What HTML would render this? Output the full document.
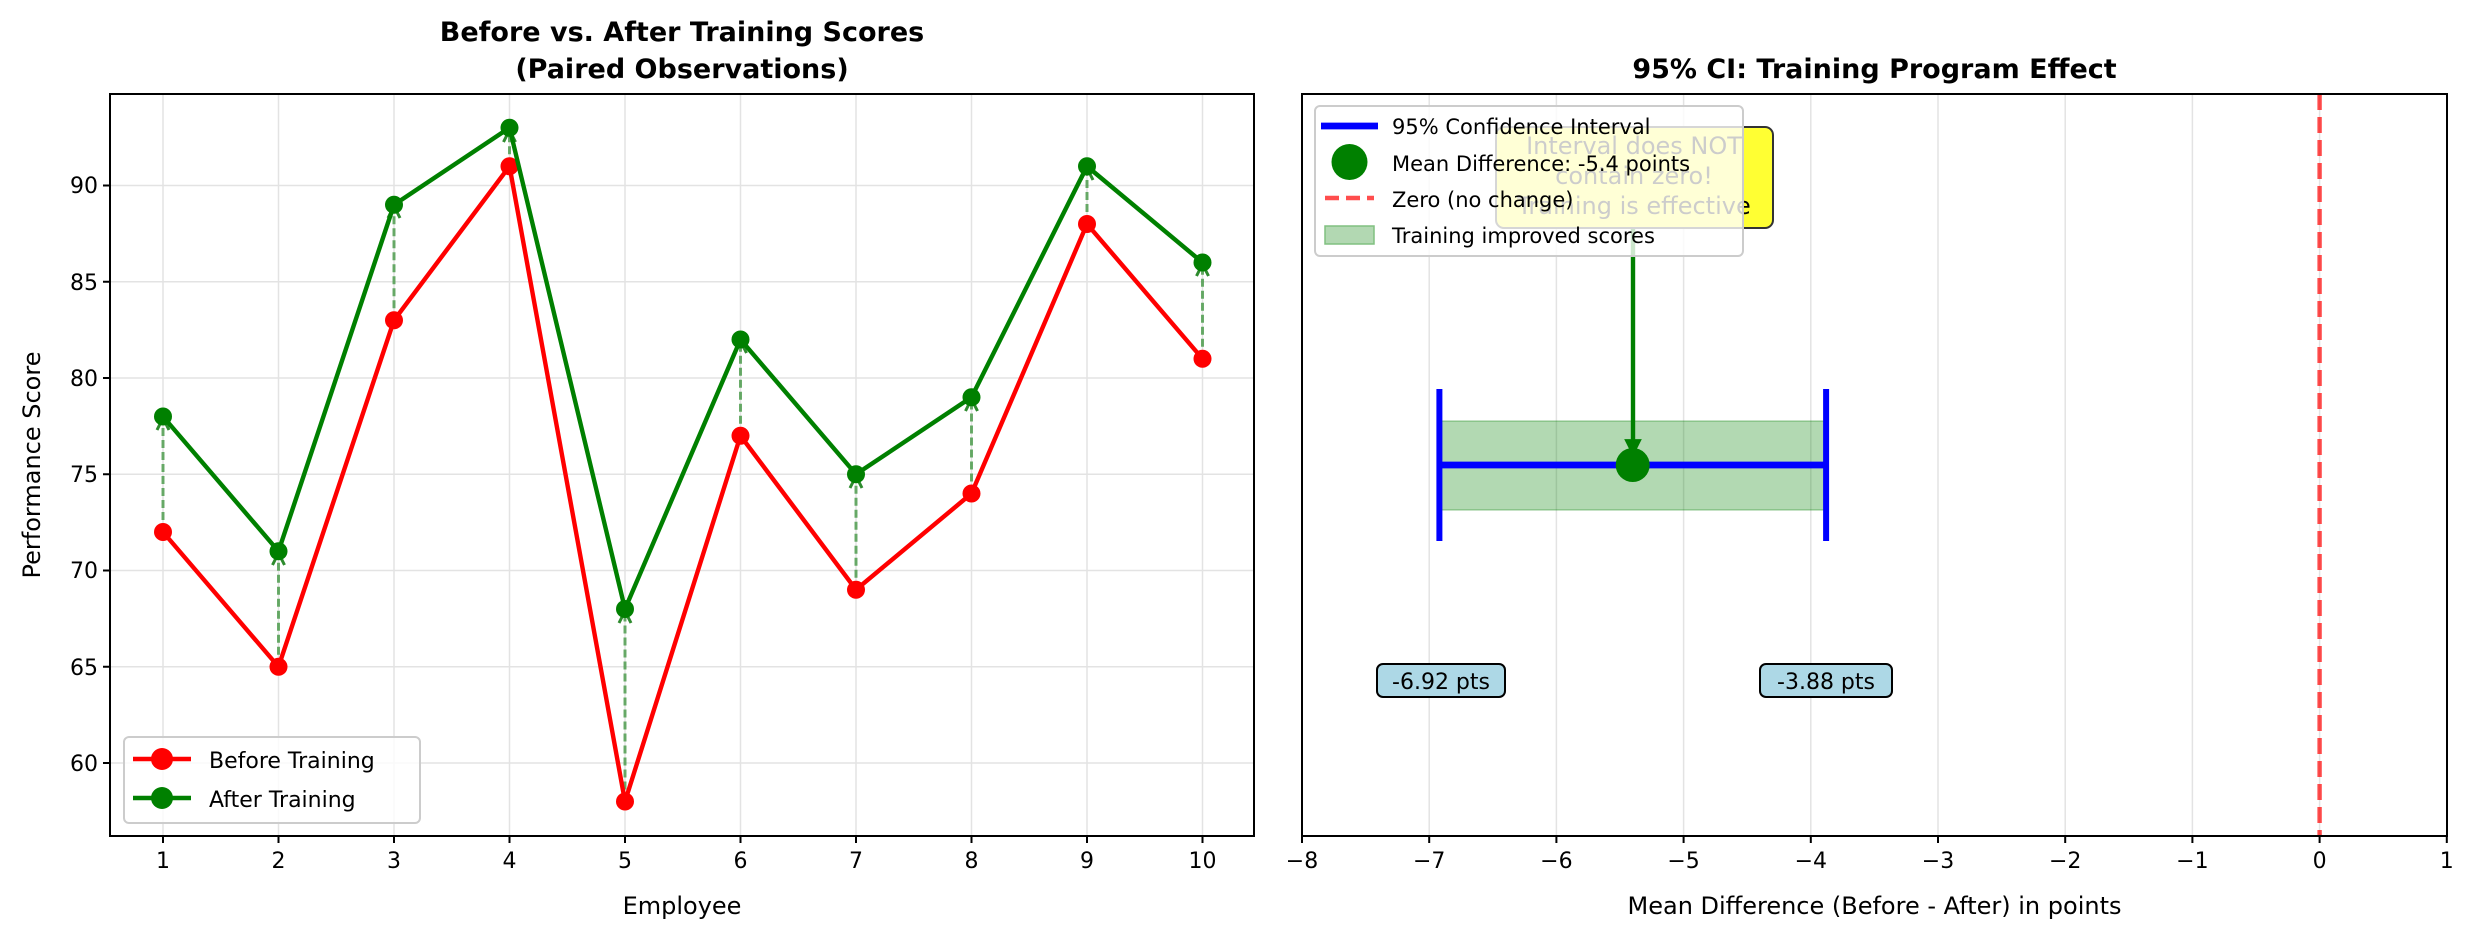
<!DOCTYPE html>
<html><head><meta charset="utf-8"><style>body{margin:0;background:#fff}svg{display:block}text{font-family:"DejaVu Sans","Liberation Sans",sans-serif}</style></head>
<body>
<svg width="2474" height="939" xmlns="http://www.w3.org/2000/svg">
<defs>
<marker id="ah" viewBox="0 0 10 10" refX="9" refY="5" markerWidth="5" markerHeight="5" orient="auto"><path d="M1,1 L9,5 L1,9" fill="none" stroke="#2e8b2e" stroke-width="2"/></marker>
<marker id="ah2" viewBox="0 0 10 10" refX="9" refY="5" markerWidth="4" markerHeight="4" orient="auto"><path d="M0,0 L10,5 L0,10 z" fill="green"/></marker>
</defs>
<!-- LEFT PLOT -->
<g stroke="#e3e3e3" stroke-width="1.5">
<line x1="163" y1="94" x2="163" y2="836"/><line x1="278.5" y1="94" x2="278.5" y2="836"/><line x1="394" y1="94" x2="394" y2="836"/><line x1="509.5" y1="94" x2="509.5" y2="836"/><line x1="625" y1="94" x2="625" y2="836"/><line x1="740.5" y1="94" x2="740.5" y2="836"/><line x1="856" y1="94" x2="856" y2="836"/><line x1="971.5" y1="94" x2="971.5" y2="836"/><line x1="1087" y1="94" x2="1087" y2="836"/><line x1="1202.5" y1="94" x2="1202.5" y2="836"/>
<line x1="110" y1="763" x2="1254" y2="763"/><line x1="110" y1="666.75" x2="1254" y2="666.75"/><line x1="110" y1="570.5" x2="1254" y2="570.5"/><line x1="110" y1="474.25" x2="1254" y2="474.25"/><line x1="110" y1="378" x2="1254" y2="378"/><line x1="110" y1="281.75" x2="1254" y2="281.75"/><line x1="110" y1="185.5" x2="1254" y2="185.5"/>
</g>
<g stroke="#2e8b2e" stroke-opacity="0.7" stroke-width="3" stroke-dasharray="8,4" marker-end="url(#ah)">
<line x1="163" y1="532" x2="163" y2="418"/><line x1="278.5" y1="666.75" x2="278.5" y2="553"/><line x1="394" y1="320.25" x2="394" y2="206"/><line x1="509.5" y1="166.25" x2="509.5" y2="130"/><line x1="625" y1="801.5" x2="625" y2="611"/><line x1="740.5" y1="435.75" x2="740.5" y2="341"/><line x1="856" y1="589.75" x2="856" y2="476"/><line x1="971.5" y1="493.5" x2="971.5" y2="399"/><line x1="1087" y1="224" x2="1087" y2="168"/><line x1="1202.5" y1="358.75" x2="1202.5" y2="264"/>
</g>
<polyline fill="none" stroke="#ff0000" stroke-width="4.4" points="163,532 278.5,666.75 394,320.25 509.5,166.25 625,801.5 740.5,435.75 856,589.75 971.5,493.5 1087,224 1202.5,358.75"/>
<g fill="#ff0000"><circle cx="163" cy="532" r="9"/><circle cx="278.5" cy="666.75" r="9"/><circle cx="394" cy="320.25" r="9"/><circle cx="509.5" cy="166.25" r="9"/><circle cx="625" cy="801.5" r="9"/><circle cx="740.5" cy="435.75" r="9"/><circle cx="856" cy="589.75" r="9"/><circle cx="971.5" cy="493.5" r="9"/><circle cx="1087" cy="224" r="9"/><circle cx="1202.5" cy="358.75" r="9"/></g>
<polyline fill="none" stroke="#008000" stroke-width="4.4" points="163,416.5 278.5,551.25 394,204.75 509.5,127.75 625,609 740.5,339.5 856,474.25 971.5,397.25 1087,166.25 1202.5,262.5"/>
<g fill="#008000"><circle cx="163" cy="416.5" r="9"/><circle cx="278.5" cy="551.25" r="9"/><circle cx="394" cy="204.75" r="9"/><circle cx="509.5" cy="127.75" r="9"/><circle cx="625" cy="609" r="9"/><circle cx="740.5" cy="339.5" r="9"/><circle cx="856" cy="474.25" r="9"/><circle cx="971.5" cy="397.25" r="9"/><circle cx="1087" cy="166.25" r="9"/><circle cx="1202.5" cy="262.5" r="9"/></g>
<rect x="110" y="94" width="1144" height="742" fill="none" stroke="#000" stroke-width="2"/>
<g stroke="#000" stroke-width="2">
<line x1="163" y1="836" x2="163" y2="843"/><line x1="278.5" y1="836" x2="278.5" y2="843"/><line x1="394" y1="836" x2="394" y2="843"/><line x1="509.5" y1="836" x2="509.5" y2="843"/><line x1="625" y1="836" x2="625" y2="843"/><line x1="740.5" y1="836" x2="740.5" y2="843"/><line x1="856" y1="836" x2="856" y2="843"/><line x1="971.5" y1="836" x2="971.5" y2="843"/><line x1="1087" y1="836" x2="1087" y2="843"/><line x1="1202.5" y1="836" x2="1202.5" y2="843"/>
<line x1="103" y1="763" x2="110" y2="763"/><line x1="103" y1="666.75" x2="110" y2="666.75"/><line x1="103" y1="570.5" x2="110" y2="570.5"/><line x1="103" y1="474.25" x2="110" y2="474.25"/><line x1="103" y1="378" x2="110" y2="378"/><line x1="103" y1="281.75" x2="110" y2="281.75"/><line x1="103" y1="185.5" x2="110" y2="185.5"/>
</g>
<g font-size="22" text-anchor="middle">
<text x="163" y="868">1</text><text x="278.5" y="868">2</text><text x="394" y="868">3</text><text x="509.5" y="868">4</text><text x="625" y="868">5</text><text x="740.5" y="868">6</text><text x="856" y="868">7</text><text x="971.5" y="868">8</text><text x="1087" y="868">9</text><text x="1202.5" y="868">10</text>
</g>
<g font-size="22" text-anchor="end">
<text x="98" y="771">60</text><text x="98" y="675">65</text><text x="98" y="578">70</text><text x="98" y="482">75</text><text x="98" y="386">80</text><text x="98" y="290">85</text><text x="98" y="193">90</text>
</g>
<text x="682" y="914" font-size="24" text-anchor="middle">Employee</text>
<text transform="translate(40,465) rotate(-90)" font-size="24" text-anchor="middle">Performance Score</text>
<text x="682" y="41" font-size="27" font-weight="bold" text-anchor="middle">Before vs. After Training Scores</text>
<text x="682" y="78" font-size="27" font-weight="bold" text-anchor="middle">(Paired Observations)</text>
<rect x="124" y="737" width="296" height="86" rx="5" fill="#fff" fill-opacity="0.8" stroke="#ccc" stroke-width="2"/>
<line x1="133" y1="759" x2="191" y2="759" stroke="#ff0000" stroke-width="4.4"/><circle cx="162" cy="759" r="11" fill="#ff0000"/>
<text x="209" y="768" font-size="22">Before Training</text>
<line x1="133" y1="798" x2="191" y2="798" stroke="#008000" stroke-width="4.4"/><circle cx="162" cy="798" r="11" fill="#008000"/>
<text x="209" y="807" font-size="22">After Training</text>

<!-- RIGHT PLOT -->
<g stroke="#e3e3e3" stroke-width="1.5">
<line x1="1429.2" y1="94" x2="1429.2" y2="836"/><line x1="1556.4" y1="94" x2="1556.4" y2="836"/><line x1="1683.6" y1="94" x2="1683.6" y2="836"/><line x1="1810.8" y1="94" x2="1810.8" y2="836"/><line x1="1938" y1="94" x2="1938" y2="836"/><line x1="2065.2" y1="94" x2="2065.2" y2="836"/><line x1="2192.4" y1="94" x2="2192.4" y2="836"/><line x1="2319.6" y1="94" x2="2319.6" y2="836"/>
</g>
<rect x="1439.4" y="421" width="386.7" height="89" fill="#008000" fill-opacity="0.3" stroke="#008000" stroke-opacity="0.3" stroke-width="1.5"/>
<line x1="2319.6" y1="94" x2="2319.6" y2="836" stroke="#ff0000" stroke-opacity="0.7" stroke-width="4.4" stroke-dasharray="16,7"/>
<line x1="1439.4" y1="465" x2="1826.1" y2="465" stroke="#0000ff" stroke-width="6.7"/>
<line x1="1439.4" y1="389" x2="1439.4" y2="541" stroke="#0000ff" stroke-width="6"/>
<line x1="1826.1" y1="389" x2="1826.1" y2="541" stroke="#0000ff" stroke-width="6"/>
<circle cx="1632.7" cy="465" r="17" fill="#008000"/>
<!-- annotation -->
<line x1="1633" y1="229" x2="1633" y2="455" stroke="green" stroke-width="4.4" marker-end="url(#ah2)"/>
<rect x="1496" y="127" width="277" height="101" rx="8" fill="#ffff33" stroke="#333" stroke-width="2"/>
<g font-size="24" text-anchor="middle">
<text x="1634" y="154">Interval does NOT</text><text x="1634" y="184">contain zero!</text><text x="1634" y="214">Training is effective</text>
</g>
<rect x="1302" y="94" width="1145" height="742" fill="none" stroke="#000" stroke-width="2"/>
<!-- legend -->
<rect x="1315" y="106" width="428" height="150" rx="5" fill="#fff" fill-opacity="0.8" stroke="#ccc" stroke-width="2"/>
<line x1="1321" y1="126" x2="1378" y2="126" stroke="#0000ff" stroke-width="6.7"/>
<circle cx="1349.5" cy="162" r="18" fill="#008000"/>
<line x1="1325" y1="198" x2="1374" y2="198" stroke="#ff4d4d" stroke-width="4.4" stroke-dasharray="14,7"/>
<rect x="1325" y="226" width="49" height="18" fill="#b2d8b2" stroke="#80c080" stroke-width="1.5"/>
<g font-size="21">
<text x="1392" y="134">95% Confidence Interval</text><text x="1392" y="171">Mean Difference: -5.4 points</text><text x="1392" y="207">Zero (no change)</text><text x="1392" y="243">Training improved scores</text>
</g>
<!-- CI labels -->
<rect x="1377" y="664" width="128" height="33" rx="6" fill="#add8e6" stroke="#000" stroke-width="2"/>
<text x="1441" y="689" font-size="22" text-anchor="middle">-6.92 pts</text>
<rect x="1760" y="664" width="132" height="33" rx="6" fill="#add8e6" stroke="#000" stroke-width="2"/>
<text x="1826" y="689" font-size="22" text-anchor="middle">-3.88 pts</text>
<g stroke="#000" stroke-width="2">
<line x1="1302" y1="836" x2="1302" y2="843"/><line x1="1429.2" y1="836" x2="1429.2" y2="843"/><line x1="1556.4" y1="836" x2="1556.4" y2="843"/><line x1="1683.6" y1="836" x2="1683.6" y2="843"/><line x1="1810.8" y1="836" x2="1810.8" y2="843"/><line x1="1938" y1="836" x2="1938" y2="843"/><line x1="2065.2" y1="836" x2="2065.2" y2="843"/><line x1="2192.4" y1="836" x2="2192.4" y2="843"/><line x1="2319.6" y1="836" x2="2319.6" y2="843"/><line x1="2446.8" y1="836" x2="2446.8" y2="843"/>
</g>
<g font-size="22" text-anchor="middle">
<text x="1302" y="868">−8</text><text x="1429.2" y="868">−7</text><text x="1556.4" y="868">−6</text><text x="1683.6" y="868">−5</text><text x="1810.8" y="868">−4</text><text x="1938" y="868">−3</text><text x="2065.2" y="868">−2</text><text x="2192.4" y="868">−1</text><text x="2319.6" y="868">0</text><text x="2446.8" y="868">1</text>
</g>
<text x="1874.5" y="914" font-size="24" text-anchor="middle">Mean Difference (Before - After) in points</text>
<text x="1874.5" y="78" font-size="27" font-weight="bold" text-anchor="middle">95% CI: Training Program Effect</text>
</svg>
</body></html>
